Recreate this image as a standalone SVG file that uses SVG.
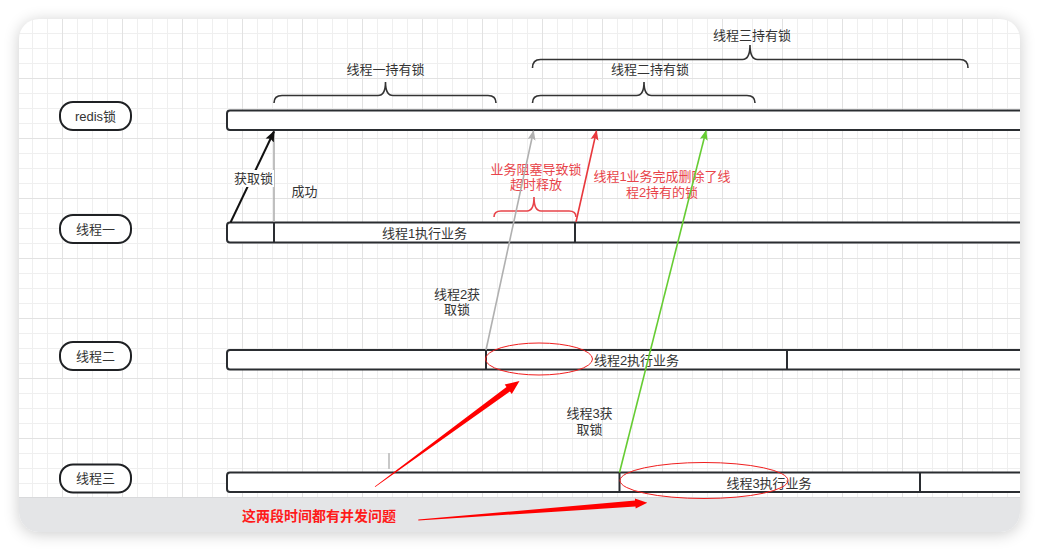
<svg xmlns="http://www.w3.org/2000/svg" width="1039" height="552" viewBox="0 0 1039 552">
<style>
.t{font-family:"Liberation Sans","Noto Sans CJK SC",sans-serif;font-size:13px;fill:#333;text-anchor:middle;dominant-baseline:central}
.r{fill:#e8444a}
.node{fill:#fff;stroke:#1f2124;stroke-width:2}
.bar{fill:#fff;stroke:#2a2d31;stroke-width:2}
.div{stroke:#2a2d31;stroke-width:2}
.brace{fill:none;stroke:#333;stroke-width:1.6}
.rbrace{fill:none;stroke:#e8444a;stroke-width:1.6}
.ell{fill:none;stroke:#f01e1e;stroke-width:1}
</style>
<defs>
<pattern id="grid" patternUnits="userSpaceOnUse" x="2" y="18" width="60" height="60">
<rect width="60" height="60" fill="#fff"/>
<path d="M15.5 0V60M30.5 0V60M45.5 0V60M0 15.5H60M0 30.5H60M0 45.5H60" stroke="#efefef" stroke-width="1"/>
<path d="M0.5 0V60M0 0.5H60" stroke="#e2e2e2" stroke-width="1"/>
</pattern>
<clipPath id="fc"><rect x="19" y="19" width="1001" height="513" rx="20"/></clipPath>
<filter id="sh" x="-10%" y="-10%" width="120%" height="130%"><feGaussianBlur stdDeviation="8"/></filter>
<marker id="ab" markerWidth="11" markerHeight="11" refX="10" refY="5.5" orient="auto" markerUnits="userSpaceOnUse"><path d="M0,1 L11,5.5 L0,10 L2,5.5 Z" fill="#111"/></marker>
<marker id="ag" markerWidth="10" markerHeight="10" refX="9" refY="5" orient="auto" markerUnits="userSpaceOnUse"><path d="M0,1 L10,5 L0,9 L2,5 Z" fill="#b0b0b0"/></marker>
<marker id="ar" markerWidth="10" markerHeight="10" refX="9" refY="5" orient="auto" markerUnits="userSpaceOnUse"><path d="M0,1 L10,5 L0,9 L2,5 Z" fill="#e8383d"/></marker>
<marker id="agr" markerWidth="10" markerHeight="10" refX="9" refY="5" orient="auto" markerUnits="userSpaceOnUse"><path d="M0,1 L10,5 L0,9 L2,5 Z" fill="#66cc33"/></marker>
</defs>
<rect width="1039" height="552" fill="#fff"/>
<rect x="19" y="21" width="1001" height="513" rx="20" fill="#000" opacity="0.2" filter="url(#sh)"/>
<g clip-path="url(#fc)">
<rect x="19" y="19" width="1001" height="513" fill="url(#grid)"/>
<rect x="19" y="497" width="1001" height="35" fill="#e4e5e7"/>
<line x1="19" y1="497.5" x2="1020" y2="497.5" stroke="#d8d9db"/>

<g id="bar-redis"><rect class="bar" x="227" y="110.5" width="830" height="19.5" rx="3"/></g>
<g id="bar-t1"><rect class="bar" x="227" y="222.5" width="830" height="20" rx="3"/><line class="div" x1="274" y1="222.5" x2="274" y2="242.5"/><line class="div" x1="575" y1="222.5" x2="575" y2="242.5"/><text class="t" x="424.5" y="233">线程1执行业务</text></g>
<g id="bar-t2"><rect class="bar" x="227" y="350" width="830" height="19.5" rx="3"/><line class="div" x1="486" y1="350" x2="486" y2="369.5"/><line class="div" x1="787" y1="350" x2="787" y2="369.5"/><text class="t" x="636.5" y="360">线程2执行业务</text></g>
<g id="bar-t3"><rect class="bar" x="227" y="472.5" width="830" height="19.5" rx="3"/><line class="div" x1="619.5" y1="472.5" x2="619.5" y2="492"/><line class="div" x1="920" y1="472.5" x2="920" y2="492"/><text class="t" x="769" y="483">线程3执行业务</text></g>
</g>

<g id="node-redis"><rect class="node" x="60" y="102" width="71" height="28" rx="13"/><text class="t" x="95.5" y="116.5">redis锁</text></g>
<g id="node-t1"><rect class="node" x="60" y="215" width="71" height="28" rx="13"/><text class="t" x="95.5" y="229">线程一</text></g>
<g id="node-t2"><rect class="node" x="60" y="342" width="71" height="28" rx="13"/><text class="t" x="95.5" y="356">线程二</text></g>
<g id="node-t3"><rect class="node" x="60" y="464.5" width="71" height="28" rx="13"/><text class="t" x="95.5" y="478.5">线程三</text></g>

<g id="brace-t1"><path class="brace" d="M274,103 Q274,95.5 282,95.5 L378,95.5 Q385.5,95.5 385.5,82 Q385.5,95.5 393,95.5 L488,95.5 Q496,95.5 496,103"/><text class="t" x="385.5" y="69">线程一持有锁</text></g>
<g id="brace-t2"><path class="brace" d="M532.5,103 Q532.5,95.5 540.5,95.5 L636.5,95.5 Q644,95.5 644,82 Q644,95.5 651.5,95.5 L747,95.5 Q755,95.5 755,103"/><text class="t" x="650" y="69">线程二持有锁</text></g>
<g id="brace-t3"><path class="brace" d="M532.5,68 Q532.5,59.5 540.5,59.5 L742.5,59.5 Q750,59.5 750,45 Q750,59.5 757.5,59.5 L960,59.5 Q968,59.5 968,68"/><text class="t" x="752" y="35">线程三持有锁</text></g>
<g id="brace-timeout"><path class="rbrace" d="M494,217 Q494,211 501,211 L527,211 Q534,211 534,197 Q534,211 541,211 L569,211 Q576,211 576,217"/><text class="t r" x="536" y="169.5">业务阻塞导致锁</text><text class="t r" x="536" y="184">超时释放</text></g>

<g id="connectors">
<line x1="274" y1="131" x2="274" y2="222" stroke="#b0b0b0" stroke-width="1.6"/>
<line x1="230.5" y1="222.5" x2="274" y2="131.5" stroke="#111" stroke-width="2" marker-end="url(#ab)"/>
<rect x="232" y="170" width="42" height="17" fill="#fff"/>
<text class="t" x="253.5" y="178.5">获取锁</text>
<text class="t" x="304.5" y="191.5">成功</text>
<line x1="486" y1="350" x2="533.5" y2="131" stroke="#b0b0b0" stroke-width="1.6" marker-end="url(#ag)"/>
<text class="t" x="457" y="294">线程2获</text>
<text class="t" x="457" y="309.5">取锁</text>
<text class="t r" x="662" y="176">线程1业务完成删除了线</text>
<text class="t r" x="662" y="192.5">程2持有的锁</text>
<line x1="576" y1="222" x2="596.5" y2="131" stroke="#e8383d" stroke-width="1.6" marker-end="url(#ar)"/>
<line x1="619.5" y1="472.5" x2="706" y2="131" stroke="#66cc33" stroke-width="1.6" marker-end="url(#agr)"/>
<text class="t" x="589.5" y="413.5">线程3获</text>
<text class="t" x="589.5" y="429">取锁</text>
<ellipse class="ell" cx="539" cy="359" rx="53.5" ry="16"/>
<ellipse class="ell" cx="704" cy="480.5" rx="84" ry="18"/>
<line x1="389" y1="453" x2="389" y2="469" stroke="#c8c8c8" stroke-width="2"/>
<polygon fill="#ff0000" points="375.2,487 509.9,391.5 511.8,394.1 519.5,381 504.7,384.5 506.5,387.1 374.8,486.4"/>
<polygon fill="#ff0000" points="418.3,520.4 635.5,506.6 635.7,508.6 647.3,502.7 634.9,498.6 635.1,500.6 418.3,519.6"/>
<text x="319" y="515" font-family="'Noto Sans CJK SC',sans-serif" font-size="14" font-weight="bold" fill="#ff1a1a" text-anchor="middle" dominant-baseline="central">这两段时间都有并发问题</text>
</g>
</svg>
